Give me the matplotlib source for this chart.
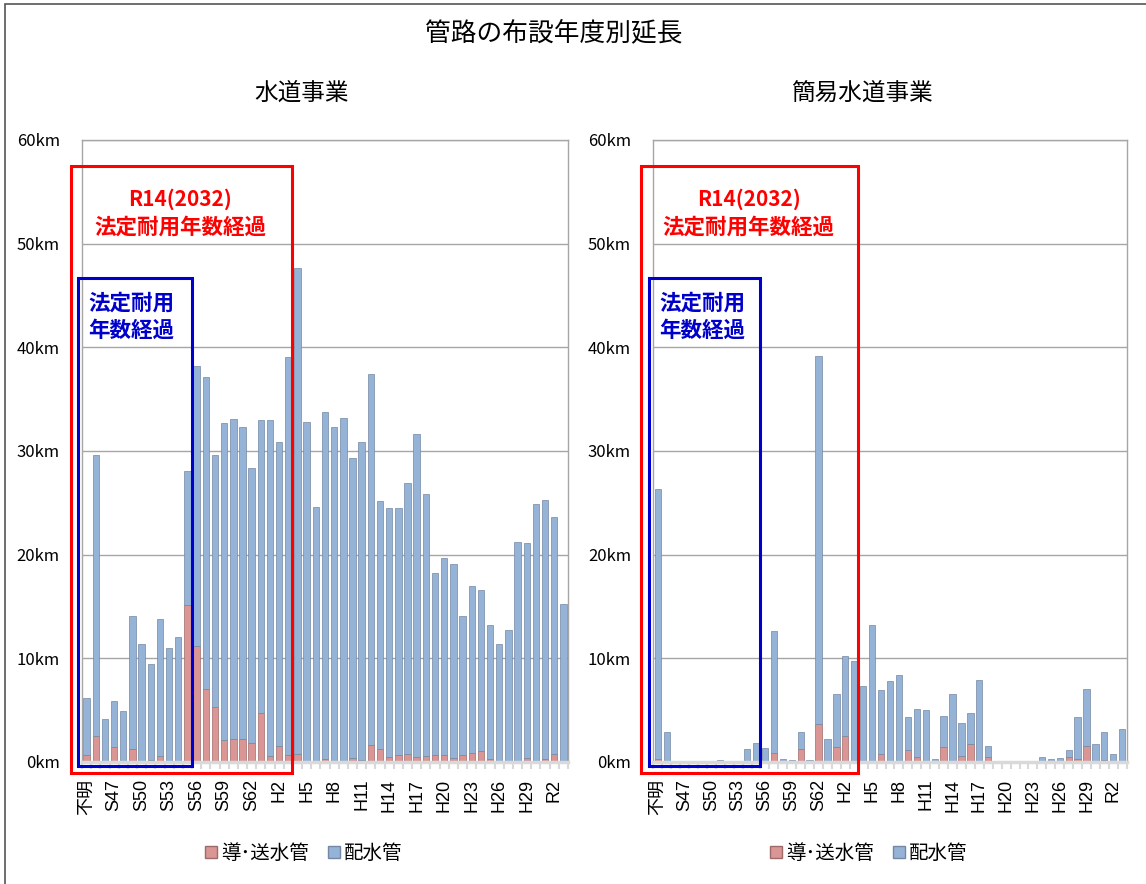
import matplotlib
matplotlib.use("Agg")
import matplotlib.pyplot as plt
from matplotlib.patches import Rectangle, Patch
import numpy as np

plt.rcParams['font.family'] = ['Noto Sans CJK JP', 'DejaVu Sans']

# categories: 不明, S45..S63, H1..H30, R1..R3
years = ['不明'] + ['S%d' % i for i in range(45, 64)] + ['H%d' % i for i in range(1, 31)] + ['R%d' % i for i in range(1, 4)]

# 水道事業 (km)
suido_dou = [0.7, 2.5, 0, 1.45, 0, 1.3, 0, 0.2, 0.6, 0, 0, 15.1, 11.2, 7.0, 5.3, 2.1, 2.2, 2.2, 1.8, 4.7,
             0.55, 1.5, 0.65, 0.8, 0, 0, 0.3, 0, 0, 0.4, 0.2, 1.6, 1.3, 0.5, 0.7, 0.8, 0.5, 0.6, 0.7, 0.7,
             0.4, 0.7, 0.9, 1.1, 0.3, 0.1, 0, 0, 0.4, 0, 0.3, 0.8, 0]
suido_hai = [5.5, 27.1, 4.1, 4.45, 4.9, 12.8, 11.35, 9.3, 13.2, 11.0, 12.1, 13.0, 27.0, 30.1, 24.3, 30.6, 30.9, 30.1, 26.6, 28.3,
             32.45, 29.4, 38.45, 46.9, 32.8, 24.6, 33.5, 32.3, 33.2, 28.9, 30.7, 35.8, 23.9, 24.0, 23.8, 26.1, 31.1, 25.3, 17.5, 19.0,
             18.7, 13.4, 16.1, 15.5, 12.9, 11.25, 12.7, 21.2, 20.7, 24.9, 25.0, 22.8, 15.2]

# 簡易水道事業 (km)
kani_dou = [0.3, 0, 0, 0, 0, 0, 0, 0, 0, 0, 0, 0, 0, 0.9, 0, 0, 1.3, 0, 3.7, 0,
            1.4, 2.5, 0, 0, 0, 0.8, 0, 0, 1.2, 0.5, 0, 0, 1.4, 0, 0.6, 1.7, 0, 0.5, 0, 0,
            0, 0, 0, 0, 0, 0.1, 0.5, 0.3, 1.5, 0, 0.2, 0, 0]
kani_hai = [26.0, 2.85, 0, 0, 0, 0, 0, 0.15, 0, 0, 1.3, 1.8, 1.35, 11.7, 0.25, 0.2, 1.55, 0.2, 35.5, 2.2,
            5.2, 7.7, 9.7, 7.3, 13.2, 6.1, 7.8, 8.4, 3.1, 4.6, 5.0, 0.25, 3.0, 6.6, 3.2, 3.0, 7.9, 1.0, 0, 0,
            0, 0, 0, 0.45, 0.25, 0.3, 0.7, 4.0, 5.5, 1.7, 2.65, 0.8, 3.2]

RED = '#D99694'
BLUE = '#95B3D7'

fig = plt.figure(figsize=(11.46, 8.84), dpi=100)

# outer frame (left and top only visible)
fig.add_artist(Rectangle((5 / 1146, -0.1), 1.2, 1 - 4 / 884 + 0.1, transform=fig.transFigure,
                         fill=False, edgecolor='#555555', linewidth=1.2))

fig.text(0.483, 0.962, '管路の布設年度別延長', ha='center', va='center', fontsize=18.5)


def drawPanel(rect, title, titleX, dou, hai, legendX, leftShift):
   ax = fig.add_axes(rect)
   x = np.arange(len(years))
   dou = np.array(dou, dtype=float)
   hai = np.array(hai, dtype=float)
   # nothing drawn where there is no value
   douShow = np.where(dou > 0, dou, np.nan)
   haiShow = np.where(hai > 0, hai, np.nan)
   ax.bar(x, douShow, width=0.7, color=RED, edgecolor='#9E6A69', linewidth=0.5, zorder=2)
   ax.bar(x, haiShow, width=0.7, bottom=dou, color=BLUE, edgecolor='#7488A3', linewidth=0.5, zorder=2)

   ax.set_xlim(-0.5, len(years) - 0.5)
   ax.set_ylim(0, 60)
   ax.set_yticks(range(0, 61, 10))
   ax.set_yticklabels(['%dkm' % v for v in range(0, 61, 10)], fontsize=12)
   ax.tick_params(axis='y', length=0, pad=16)
   ax.yaxis.grid(True, color='#A6A6A6', linewidth=1.0)
   ax.set_axisbelow(True)

   ax.set_xticks(x[::3])
   ax.set_xticklabels(years[::3], rotation=90, fontsize=13,
                      family=['Liberation Sans', 'Noto Sans CJK JP'])
   ax.set_xticks(np.arange(-0.5, len(years), 1), minor=True)
   ax.tick_params(axis='x', which='major', length=0, pad=12)
   ax.tick_params(axis='x', which='minor', length=5, width=1.5, color='#D9D9D9')

   for s in ['left', 'top', 'right']:
      ax.spines[s].set_color('#A6A6A6')
      ax.spines[s].set_linewidth(1.0)
   ax.spines['bottom'].set_color('#D9D9D9')
   ax.spines['bottom'].set_linewidth(2.5)
   ax.spines['bottom'].set_zorder(3)

   # 法定耐用年数経過 boxes
   ax.add_patch(Rectangle((-1.7 - leftShift, -1.1), 24.1 + leftShift, 58.6, fill=False,
                          edgecolor='#FF0000', linewidth=2.2, clip_on=False, zorder=5))
   ax.add_patch(Rectangle((-0.95 - leftShift / 3, -0.35), 12.45 + leftShift / 3, 47.0, fill=False,
                          edgecolor='#0000CC', linewidth=2.2, clip_on=False, zorder=5))
   ax.text(10.2, 54.3, 'R14(2032)', color='#FF0000', fontsize=15, fontweight='bold',
           ha='center', va='center', zorder=6)
   ax.text(10.2, 51.6, '法定耐用年数経過', color='#FF0000', fontsize=15.5, fontweight='bold',
           ha='center', va='center', zorder=6)
   ax.text(0.2, 44.3, '法定耐用', color='#0000CC', fontsize=15.5, fontweight='bold',
           ha='left', va='center', zorder=6)
   ax.text(0.2, 41.6, '年数経過', color='#0000CC', fontsize=15.5, fontweight='bold',
           ha='left', va='center', zorder=6)

   fig.text(titleX, 0.895, title, ha='center', va='center', fontsize=17)

   handles = [Patch(facecolor=RED, edgecolor='#9E6A69', label='導･送水管'),
              Patch(facecolor=BLUE, edgecolor='#7488A3', label='配水管')]
   fig.legend(handles=handles, loc='center', bbox_to_anchor=(legendX, 0.035), ncol=2, frameon=False,
              fontsize=14, handlelength=0.6, handleheight=0.6, handletextpad=0.2, columnspacing=1.0)
   return ax


drawPanel([82 / 1146, 122 / 884, 486 / 1146, 622 / 884], '水道事業', 0.263, suido_dou, suido_hai, 0.265, 0.0)
drawPanel([653.3 / 1146, 122 / 884, 473.4 / 1146, 622 / 884], '簡易水道事業', 0.752, kani_dou, kani_hai, 0.758, 0.15)

fig.savefig('out.png', dpi=100)
